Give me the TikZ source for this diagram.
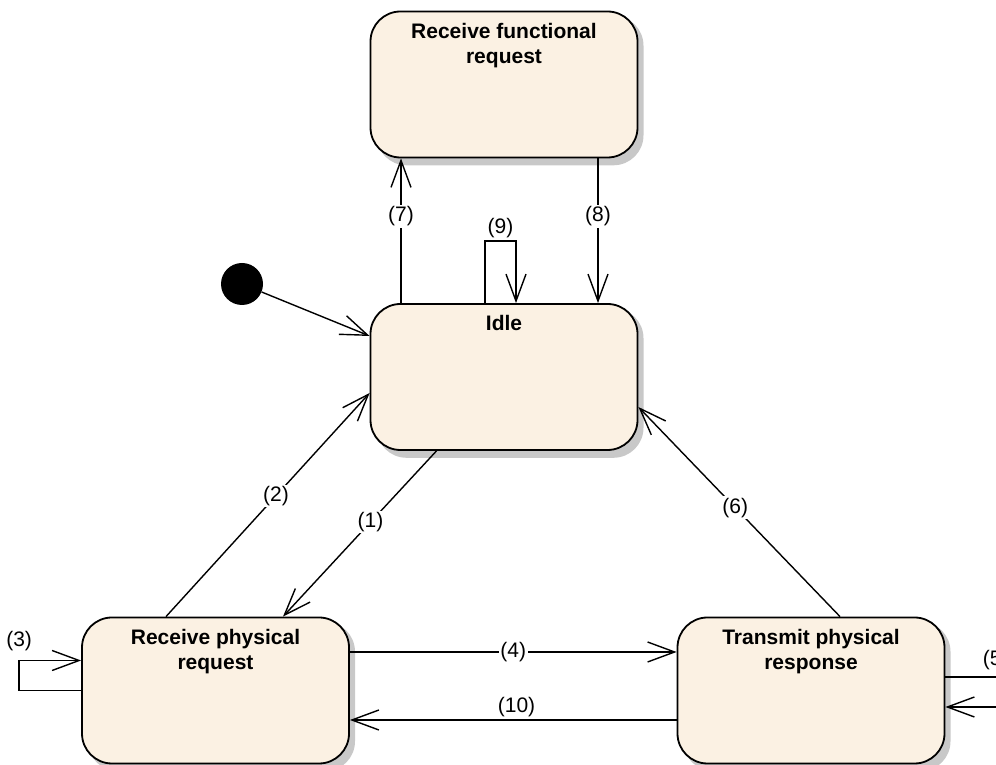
\documentclass[tikz,border=0pt]{standalone}
\usepackage{fontspec}
\setmainfont{Liberation Sans}
\usetikzlibrary{arrows.meta,backgrounds}
\definecolor{statefill}{RGB}{251,241,227}
\definecolor{shadowgray}{RGB}{200,200,200}

\begin{document}
\begin{tikzpicture}[x=1pt, y=1pt,
    state/.style = {draw, line width=1.8pt, rounded corners=30pt, fill=statefill,
        minimum width=267pt, minimum height=146pt},
    title/.style = {font=\fontsize{21}{25}\selectfont\bfseries, align=center,
        anchor=north, inner sep=4pt, yshift=-8pt},
    trans/.style = {line width=1.4pt, -{Straight Barb[length=27pt, width=20pt]}},
    lbl/.style = {font=\fontsize{21}{24}\selectfont, inner sep=1.5pt}]
    \useasboundingbox (0,0) rectangle (996,765);
    \node[state, label={[title]north:{Receive functional\\request}}] (funreq) at (504,680.5) {};
    \node[state, label={[title]north:Idle}] (idle) at (504,388) {};
    \node[state, label={[title]north:{Receive physical\\request}}] (physreq) at (215.5,74.5) {};
    \node[state, label={[title]north:{Transmit physical\\response}}] (physresp) at (811,74.5) {};
    \node[circle, fill=black, minimum size=42pt, inner sep=0pt] (init) at (242,481) {};
    % shadows behind the states
    \begin{pgfonlayer}{background}
        \foreach \s in {funreq, idle, physreq, physresp}
            \fill[shadowgray, rounded corners=30pt] ([shift={(6.9,-6.9)}]\s.south west) rectangle ([shift={(5.1,-5.1)}]\s.north east);
    \end{pgfonlayer}
    \draw[trans] (init) -- ([yshift=41pt]idle.west);
    \draw[trans] ([xshift=-103pt]idle.north) -- node[lbl, fill=white, pos=0.6] {(7)} ([xshift=-103pt]funreq.south);
    \draw[trans] ([xshift=94pt]funreq.south) -- node[lbl, fill=white, pos=0.4] {(8)} ([xshift=94pt]idle.north);
    \draw[trans] ([xshift=-19pt]idle.north) -- ++(0,62) -| node[lbl, above=1pt, pos=0.25] {(9)} ([xshift=12pt]idle.north);
    \draw[trans] ([xshift=-67.5pt]idle.south) -- node[lbl, fill=white, pos=0.43] {(1)} ([xshift=67.5pt]physreq.north);
    \draw[trans] ([xshift=-49.5pt]physreq.north) -- node[lbl, fill=white, pos=0.54] {(2)} ([yshift=-16pt]idle.west);
    \draw[trans] ([xshift=29pt]physresp.north) -- node[lbl, fill=white, pos=0.52] {(6)} ([yshift=-30pt]idle.east);
    \draw[trans] ([yshift=38.5pt]physreq.east) -- node[lbl, fill=white] {(4)} ([yshift=38.5pt]physresp.west);
    \draw[trans] ([yshift=-29.5pt]physresp.west) -- node[lbl, above=1pt, pos=0.49] {(10)} ([yshift=-29.5pt]physreq.east);
    \draw[trans] (physreq.west) -- ++(-62,0) |- node[lbl, above=7pt, pos=0.5] {(3)} ([yshift=30pt]physreq.west);
    \draw[trans] ([yshift=13.5pt]physresp.east) -- node[lbl, above=5pt, pos=0.72] {(5)} ++(70,0) |- ([yshift=-16.5pt]physresp.east);
\end{tikzpicture}
\end{document}
